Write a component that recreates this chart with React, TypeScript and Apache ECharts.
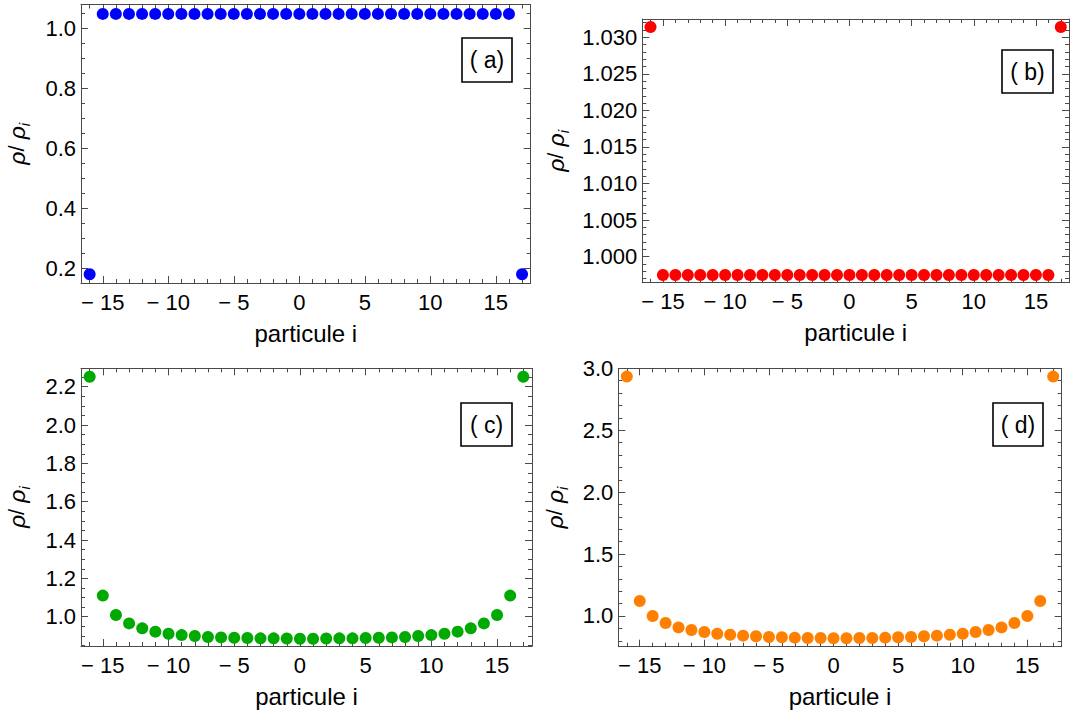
import React, { useEffect, useRef } from "react";
import * as echarts from "echarts";

// particle index i
const particles = [
  -16, -15, -14, -13, -12, -11, -10, -9, -8, -7, -6, -5, -4, -3, -2, -1, 0,
  1, 2, 3, 4, 5, 6, 7, 8, 9, 10, 11, 12, 13, 14, 15, 16, 17,
];

// rho / rho_i for the four cases
const rhoA = [
  0.181, 1.0477, 1.0477, 1.0477, 1.0477, 1.0477, 1.0477, 1.0477, 1.0477, 1.0477,
  1.0477, 1.0477, 1.0477, 1.0477, 1.0477, 1.0477, 1.0477, 1.0477, 1.0477, 1.0477,
  1.0477, 1.0477, 1.0477, 1.0477, 1.0477, 1.0477, 1.0477, 1.0477, 1.0477, 1.0477,
  1.0477, 1.0477, 1.0477, 0.181,
];
const rhoB = [
  1.0314, 0.9975, 0.9975, 0.9975, 0.9975, 0.9975, 0.9975, 0.9975, 0.9975, 0.9975,
  0.9975, 0.9975, 0.9975, 0.9975, 0.9975, 0.9975, 0.9975, 0.9975, 0.9975, 0.9975,
  0.9975, 0.9975, 0.9975, 0.9975, 0.9975, 0.9975, 0.9975, 0.9975, 0.9975, 0.9975,
  0.9975, 0.9975, 0.9975, 1.0314,
];
const rhoC = [
  2.252, 1.11, 1.009, 0.965, 0.939, 0.922, 0.911, 0.904, 0.899, 0.894, 0.892,
  0.89, 0.889, 0.887, 0.887, 0.886, 0.885, 0.885, 0.886, 0.887, 0.887, 0.889,
  0.89, 0.892, 0.894, 0.899, 0.904, 0.911, 0.922, 0.939, 0.965, 1.009, 1.11,
  2.252,
];
const rhoD = [
  2.933, 1.121, 1.0, 0.943, 0.908, 0.887, 0.871, 0.857, 0.849, 0.841, 0.836,
  0.83, 0.828, 0.825, 0.822, 0.822, 0.82, 0.82, 0.822, 0.822, 0.825, 0.828,
  0.83, 0.836, 0.841, 0.849, 0.857, 0.871, 0.887, 0.908, 0.943, 1.0, 1.121,
  2.933,
];

const panelLabels = ["( a)", "( b)", "( c)", "( d)"];
const xAxisTitle = "particule i";

const FONT = "'Liberation Sans', Arial, Helvetica, sans-serif";
const FRAME = "#4a4a4a";

const panels = [
  {
    data: rhoA, color: "#0000ff",
    rect: { left: 81, top: 4.5, width: 449.7, height: 278.5 },
    yMin: 0.152, yMax: 1.079, yMajor: 0.2, yMinor: 0.05, dec: 1, nameGap: 53,
    box: { x: 462, y: 38, w: 50, h: 44 },
  },
  {
    data: rhoB, color: "#ff0000",
    rect: { left: 642.3, top: 19, width: 426.7, height: 263.7 },
    yMin: 0.99644, yMax: 1.0325, yMajor: 0.005, yMinor: 0.001, dec: 3, nameGap: 75,
    box: { x: 1002, y: 50, w: 51, h: 43 },
  },
  {
    data: rhoC, color: "#00aa00",
    rect: { left: 81, top: 368.3, width: 451, height: 277.7 },
    yMin: 0.847, yMax: 2.296, yMajor: 0.2, yMinor: 0.05, dec: 1, nameGap: 53,
    box: { x: 461, y: 403, w: 51, h: 43 },
  },
  {
    data: rhoD, color: "#ff8000",
    rect: { left: 618.3, top: 368.3, width: 443.4, height: 278.4 },
    yMin: 0.752, yMax: 3.0, yMajor: 0.5, yMinor: 0.1, dec: 1, nameGap: 52,
    box: { x: 993, y: 403, w: 50, h: 43 },
  },
];

const X_MIN = -16.66;
const X_MAX = 17.66;

function xFmt(v: number) {
  const r = Math.round(v);
  if (Math.abs(v - r) > 1e-6 || r % 5 !== 0) return "";
  return r < 0 ? "\u2212 " + -r : String(r);
}

function buildOption() {
  const grid: any[] = [];
  const xAxis: any[] = [];
  const yAxis: any[] = [];
  const series: any[] = [];
  const graphic: any[] = [];

  panels.forEach((p, i) => {
    const gMain = grid.length;
    grid.push({ ...p.rect, containLabel: false });
    const gMinor = grid.length;
    grid.push({ ...p.rect, containLabel: false });

    const baseX = {
      type: "value", min: X_MIN, max: X_MAX, splitLine: { show: false },
      axisLine: { show: true, onZero: false, lineStyle: { color: FRAME, width: 1 } },
    };
    const xMainIdx = xAxis.length;
    xAxis.push({
      ...baseX, gridIndex: gMain, position: "bottom", minInterval: 5, maxInterval: 5,
      axisTick: { show: true, inside: true, length: 7, lineStyle: { color: FRAME } },
      axisLabel: {
        show: true, formatter: xFmt, margin: 8, color: "#000",
        fontSize: 22, fontFamily: FONT,
      },
      name: xAxisTitle, nameLocation: "middle", nameGap: 38,
      nameTextStyle: { fontSize: 24, fontFamily: FONT, color: "#000" },
    });
    xAxis.push({
      ...baseX, gridIndex: gMain, position: "top", minInterval: 5, maxInterval: 5,
      axisTick: { show: true, inside: true, length: 7, lineStyle: { color: FRAME } },
      axisLabel: { show: false },
    });
    xAxis.push({
      ...baseX, gridIndex: gMinor, position: "bottom", minInterval: 1, maxInterval: 1,
      axisLine: { show: false, onZero: false },
      axisTick: { show: true, inside: true, length: 4, lineStyle: { color: FRAME } },
      axisLabel: { show: false },
    });
    xAxis.push({
      ...baseX, gridIndex: gMinor, position: "top", minInterval: 1, maxInterval: 1,
      axisLine: { show: false, onZero: false },
      axisTick: { show: true, inside: true, length: 4, lineStyle: { color: FRAME } },
      axisLabel: { show: false },
    });

    const baseY = {
      type: "value", min: p.yMin, max: p.yMax, splitLine: { show: false }, scale: true,
      axisLine: { show: true, onZero: false, lineStyle: { color: FRAME, width: 1 } },
    };
    const yFmt = (v: number) => {
      const k = v / p.yMajor;
      if (Math.abs(k - Math.round(k)) > 1e-6) return "";
      return v.toFixed(p.dec);
    };
    const yMainIdx = yAxis.length;
    yAxis.push({
      ...baseY, gridIndex: gMain, position: "left", minInterval: p.yMajor, maxInterval: p.yMajor,
      axisTick: { show: true, inside: true, length: 7, lineStyle: { color: FRAME } },
      axisLabel: {
        show: true, formatter: yFmt, margin: 5, color: "#000",
        fontSize: 22, fontFamily: FONT,
      },
      name: "{r|\u03C1}{n|/ }{r|\u03C1}{s|i}",
      nameLocation: "middle", nameRotate: 90, nameGap: p.nameGap,
      nameTextStyle: {
        color: "#000", fontFamily: FONT,
        rich: {
          r: { fontSize: 23, fontStyle: "italic", fontFamily: FONT, color: "#000" },
          n: { fontSize: 22, fontFamily: FONT, color: "#000" },
          s: { fontSize: 15, fontStyle: "italic", fontFamily: FONT, color: "#000", verticalAlign: "bottom", padding: [0, 0, -4, 0] },
        },
      },
    });
    yAxis.push({
      ...baseY, gridIndex: gMain, position: "right", minInterval: p.yMajor, maxInterval: p.yMajor,
      axisTick: { show: true, inside: true, length: 7, lineStyle: { color: FRAME } },
      axisLabel: { show: false },
    });
    yAxis.push({
      ...baseY, gridIndex: gMinor, position: "left", minInterval: p.yMinor, maxInterval: p.yMinor,
      axisLine: { show: false, onZero: false },
      axisTick: { show: true, inside: true, length: 4, lineStyle: { color: FRAME } },
      axisLabel: { show: false },
    });
    yAxis.push({
      ...baseY, gridIndex: gMinor, position: "right", minInterval: p.yMinor, maxInterval: p.yMinor,
      axisLine: { show: false, onZero: false },
      axisTick: { show: true, inside: true, length: 4, lineStyle: { color: FRAME } },
      axisLabel: { show: false },
    });

    series.push({
      type: "scatter",
      xAxisIndex: xMainIdx,
      yAxisIndex: yMainIdx,
      symbol: "circle",
      symbolSize: 12,
      itemStyle: { color: p.color, opacity: 1 },
      data: particles.map((x, k) => [x, p.data[k]]),
      z: 5,
    });

    graphic.push({
      type: "rect",
      shape: { x: p.box.x, y: p.box.y, width: p.box.w, height: p.box.h },
      style: { fill: "#fff", stroke: "#000", lineWidth: 1.6 },
      z: 100,
    });
    graphic.push({
      type: "text",
      x: p.box.x + p.box.w / 2,
      y: p.box.y + p.box.h / 2,
      style: {
        text: panelLabels[i],
        fontSize: 23,
        fontFamily: FONT,
        fill: "#000",
        textAlign: "center",
        textVerticalAlign: "middle",
        align: "center",
        verticalAlign: "middle",
      },
      z: 101,
    });
  });

  return {
    animation: false,
    backgroundColor: "#fff",
    textStyle: { fontFamily: FONT },
    grid,
    xAxis,
    yAxis,
    series,
    graphic,
  };
}

export default function App() {
  const ref = useRef<HTMLDivElement>(null);
  useEffect(() => {
    if (!ref.current) return;
    const chart = echarts.init(ref.current, undefined, { renderer: "svg" });
    chart.setOption(buildOption() as any);
    return () => chart.dispose();
  }, []);
  return (
    <div
      ref={ref}
      style={{ position: "fixed", left: 0, top: 0, width: 1073, height: 718, background: "#fff" }}
    />
  );
}
